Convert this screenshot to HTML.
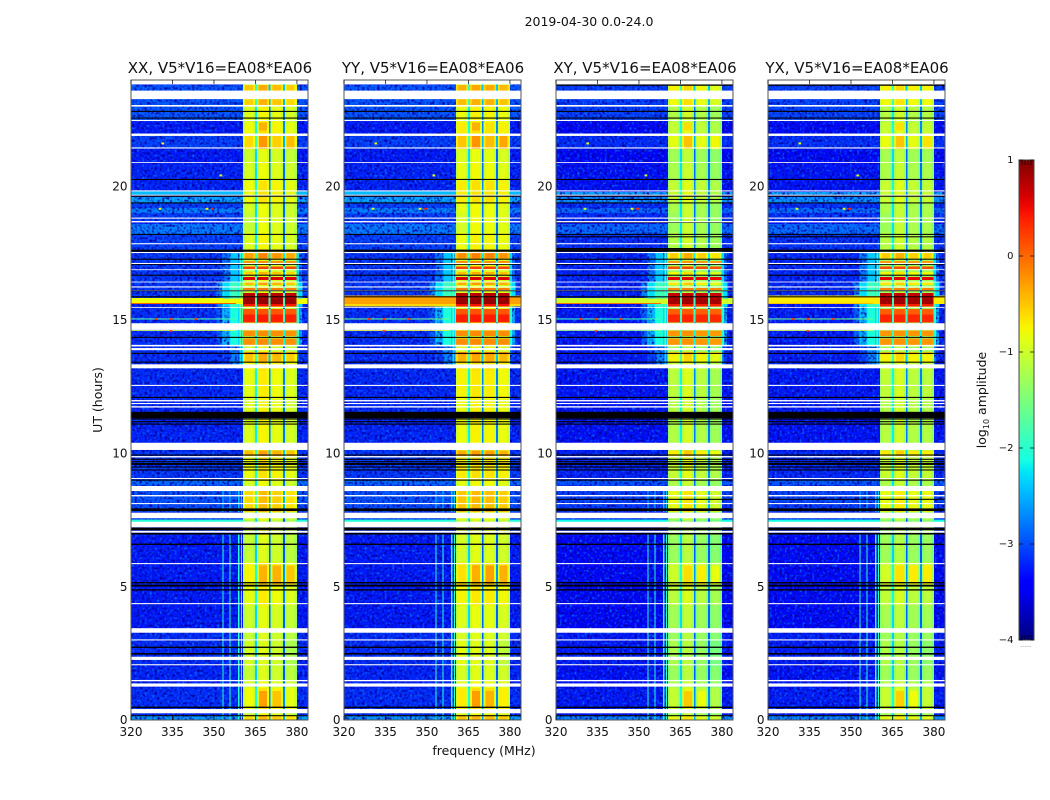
<!DOCTYPE html>
<html lang="en">
<head>
<meta charset="utf-8">
<title>2019-04-30 dynamic spectra</title>
<style>
html,body{margin:0;padding:0;background:#fff;width:1050px;height:800px;overflow:hidden}
svg{display:block}
text{font-family:"DejaVu Sans","Liberation Sans",sans-serif;fill:#111}
</style>
</head>
<body>
<svg id="chart" xmlns="http://www.w3.org/2000/svg" width="1050" height="800" viewBox="0 0 1050 800">
  <defs>
    <linearGradient id="jet-gradient" x1="0" y1="1" x2="0" y2="0"></linearGradient>
    <filter id="speckle-dark-0" x="0" y="0" width="1" height="1" color-interpolation-filters="sRGB"><feTurbulence type="fractalNoise" baseFrequency="0.4" numOctaves="1" seed="3"/><feColorMatrix type="matrix" values="0 0 0 0 0  0 0 0 0 0  0 0 0 0 0.62  3.4 0 0 0 -1.55"/></filter>
    <filter id="speckle-light-0" x="0" y="0" width="1" height="1" color-interpolation-filters="sRGB"><feTurbulence type="fractalNoise" baseFrequency="0.4" numOctaves="1" seed="11"/><feColorMatrix type="matrix" values="0 0 0 0 0  0 0 0 0 0.45  0 0 0 0 1  0 3.4 0 0 -1.85"/></filter>
  </defs>
  <text x="589" y="26" text-anchor="middle" font-size="12.5">2019-04-30 0.0-24.0</text>
  <text transform="translate(102,400) rotate(-90)" text-anchor="middle" font-size="12.5">UT (hours)</text>
  <text x="484" y="755" text-anchor="middle" font-size="12.5">frequency (MHz)</text>
  <g id="panels"></g>
  <g id="colorbar"></g>
  <text transform="translate(986,400) rotate(-90)" text-anchor="middle" font-size="12.5">log<tspan font-size="8" dy="3">10</tspan><tspan dy="-3"> amplitude</tspan></text>
  <text x="1026" y="647" text-anchor="middle" font-size="6" style="fill:#777">......</text>
</svg>
<script>
// ---- axis ticks ----
const frequencyTicks = [320, 335, 350, 365, 380];
const hourTicks = [0, 5, 10, 15, 20];
const colorbarTicks = [1, 0, -1, -2, -3, -4];
const panelTitles = ['XX, V5*V16=EA08*EA06', 'YY, V5*V16=EA08*EA06', 'XY, V5*V16=EA08*EA06', 'YX, V5*V16=EA08*EA06'];
const panelLefts = [131, 344, 556, 768];

// ---- spectrum channels (MHz edges, and what kind of channel each bin is) ----
const channelEdges = [320, 351, 353.1, 353.45, 355.7, 356.05, 358.6, 359.3, 359.85, 360.15, 360.5, 361.2, 364.1, 364.8, 365.5, 366.2, 369.1, 369.8, 370.5, 371.2, 374.2, 374.9, 375.6, 376.3, 379.1, 379.8, 380.6, 381.8, 384];
const channelKinds = ['off', 'leak3', 'rfi', 'leak2', 'rfi', 'leak1', 'rfi', 'leak0', 'rfi', 'leak0', 'edge0', 'mid0', 'edge0', 'notch0', 'edge1', 'mid1', 'edge1', 'notch1', 'edge2', 'mid2', 'edge2', 'notch2', 'edge3', 'mid3', 'edge3', 'post0', 'post1', 'off'];
const notchDrop = [1.35, 1.95, 1.95];

// ---- time segments [startHour, endHour, log10 amplitude] ----
const offBandSegments = [[0, 0.24, -2.55], [0.4, 1.24, -3.1], [1.36, 1.44, -2.4], [1.5, 2.04, -3.15], [2.08, 3.26, -3.1], [3.43, 6.9, -3.2], [7.42, 7.55, -2.0], [7.76, 8.08, -2.95], [8.12, 8.57, -2.9], [8.76, 9.0, -2.8], [9.0, 10.11, -3.05], [10.4, 11.3, -3.15], [11.54, 13.2, -3.12], [13.3, 15.5, -3.1], [15.85, 17.5, -3.05], [17.6, 18.2, -3.0], [18.2, 18.65, -2.7], [18.7, 19.0, -3.0], [19.0, 19.2, -2.7], [19.2, 19.4, -3.0], [19.4, 19.62, -2.5], [19.7, 19.8, -2.4], [19.9, 20.9, -3.15], [20.9, 21.4, -3.2], [21.45, 21.9, -3.0], [21.97, 22.45, -3.2], [22.5, 23.26, -2.9], [23.58, 23.65, -2.1], [23.65, 23.81, -2.9]];
const inBandSegments = [[0, 0.24, -0.55], [0.4, 1.24, -0.75], [1.24, 1.5, -0.9], [1.5, 3.3, -1.0], [3.4, 4.35, -0.95], [4.35, 5.0, -0.8], [5.0, 5.9, -0.7], [5.9, 6.9, -1.0], [7.42, 7.55, -1.1], [7.76, 8.6, -0.55], [8.6, 9.0, -0.9], [9.0, 9.9, -0.75], [9.9, 10.11, -0.4], [10.4, 11.3, -0.85], [11.5, 12.1, -0.85], [12.1, 13.1, -0.8], [13.1, 13.4, -0.75], [13.4, 13.67, -0.45], [13.75, 13.85, -0.25], [14.05, 14.3, -0.2], [14.36, 14.6, -0.2], [14.87, 15.25, 0.4], [15.25, 15.44, 0.1], [15.47, 15.65, 0.45], [15.65, 15.85, 0.9], [15.85, 16.03, 0.75], [16.1, 16.25, -0.1], [16.3, 16.44, -0.4], [16.48, 16.63, 0.6], [16.66, 16.85, -0.5], [16.88, 17.04, 0.2], [17.12, 17.23, -0.2], [17.27, 17.5, -0.25], [17.6, 18.2, -0.85], [18.2, 19.4, -0.9], [19.4, 20.2, -0.75], [20.2, 20.9, -0.9], [20.9, 21.4, -0.95], [21.4, 21.95, -0.55], [21.95, 22.45, -0.75], [22.45, 23, -0.85], [23, 23.26, -0.5], [23.58, 23.81, -0.45]];
const leakSegments = [[13.3, 14.0, -2.3], [14.0, 15.5, -1.7], [15.5, 16.4, -1.5], [16.4, 17.5, -2.0]];
const rfiSegments = [[0, 7.0, -2.0], [7.8, 8.6, -2.4]];

// ---- brighter patches inside single sub-bands [subBand, startHour, endHour, extra] ----
const inBandPatches = [[1, 0.55, 1.1, 0.35], [2, 0.55, 1.1, 0.25], [1, 5.1, 5.8, 0.2], [2, 5.1, 5.8, 0.3], [3, 5.1, 5.8, 0.3], [1, 21.4, 21.95, 0.2], [3, 21.4, 21.95, 0.2], [1, 22.1, 22.4, 0.25], [0, 2.0, 3.0, 0.1], [3, 2.0, 3.0, -0.1], [0, 18.3, 19.0, -0.1]];

// ---- per-panel offsets: sub-band 1..4 gain, off-band gain ----
const subBandOffsets = [[-0.05, 0.1, 0, -0.1], [0.05, 0.12, 0.1, 0.02], [-0.3, -0.12, -0.32, -0.42], [-0.28, -0.15, -0.3, -0.3]];
const edgeDrop = [0.22, 0.22, 0.22, 0.22];
const offBandGain = [-0.05, -0.05, -0.15, -0.13];

// ---- strong broadband rows per panel ----
const broadbandP1 = [[15.6, 15.8, -0.8]];
const broadbandP2 = [[15.6, 15.9, -0.3], [15.5, 15.6, -0.6]];
const broadbandP3 = [[15.6, 15.8, -1.0]];
const broadbandP4 = [[15.6, 15.9, -0.7]];
const broadbandRows = [broadbandP1, broadbandP2, broadbandP3, broadbandP4];

// ---- thin off-band interference lines [startHour, endHour, log10 amplitude] ----
const thinP1 = [[15.58, 15.61, 0.3], [15.0, 15.04, -1.8], [14.57, 14.6, -1.0]];
const thinP2 = [[15.0, 15.04, -1.6], [14.57, 14.6, -0.8]];
const thinP3 = [[15.58, 15.61, 0.2], [15.0, 15.04, -1.9], [14.57, 14.6, -1.4]];
const thinP4 = [[15.58, 15.61, -0.4], [15.0, 15.04, -1.6], [14.57, 14.6, -1.0]];
const thinRows = [thinP1, thinP2, thinP3, thinP4];

// ---- flagged rows (drawn white when missing, black when empty) ----
const whiteRows = [[0.24, 0.4], [1.24, 1.36], [1.44, 1.49], [2.04, 2.08], [2.24, 2.36], [2.97, 3.01], [3.26, 3.43], [4.33, 4.37], [5.83, 5.87], [7.01, 7.08], [7.21, 7.42], [7.55, 7.76], [8.08, 8.12], [8.37, 8.42], [8.57, 8.76], [9.02, 9.06], [9.83, 9.88], [10.11, 10.38], [11.70, 11.75], [11.83, 11.87], [11.93, 11.98], [12.51, 12.55], [13.17, 13.32], [13.85, 13.93], [13.99, 14.05], [14.6, 14.63], [14.63, 14.86], [15.44, 15.47], [16.07, 16.1], [16.2, 16.24], [16.39, 16.42], [16.85, 16.88], [17.08, 17.12], [17.49, 17.53], [17.82, 17.86], [18.64, 18.69], [18.78, 18.82], [19.64, 19.68], [19.8, 19.84], [20.87, 20.9], [21.41, 21.45], [21.88, 21.97], [22.44, 22.48], [22.98, 23.04], [23.26, 23.58], [23.81, 24]];
const blackRows = [[0.13, 0.17], [0.44, 0.49], [2.44, 2.5], [2.69, 2.74], [4.84, 4.89], [4.99, 5.06], [5.11, 5.16], [6.55, 6.6], [6.94, 7.0], [7.1, 7.2], [7.82, 7.92], [8.96, 9.0], [9.34, 9.38], [9.45, 9.49], [9.55, 9.62], [9.65, 9.69], [9.74, 9.78], [9.9, 9.94], [11.06, 11.1], [11.15, 11.19], [11.25, 11.29], [11.3, 11.54], [12.06, 12.1], [13.38, 13.42], [13.71, 13.75], [14.31, 14.35], [15.83, 15.87], [16.06, 16.09], [16.64, 16.68], [17.05, 17.08], [17.24, 17.28], [17.54, 17.62], [18.17, 18.21], [19.35, 19.39], [19.6, 19.64], [20.23, 20.27], [22.53, 22.57], [22.78, 22.82]];
const extraBlackP3 = [[8.24, 8.28], [17.62, 17.68], [18.08, 18.12], [18.62, 18.64], [19.48, 19.52], [23.76, 23.81]];
const extraBlackP4 = [[8.24, 8.28], [18.08, 18.12], [23.76, 23.81]];
const panelBlackRows = [[], [], extraBlackP3, extraBlackP4];

// ---- isolated hot pixels [MHz, hour, log10 amplitude] ----
const hotPixels = [[328.6, 15.02, 0.3], [334, 15.02, 0.3], [343, 15.02, 0.3], [334, 14.58, 0.3], [349, 19.15, 0.4], [347, 19.15, -0.8], [330, 19.15, -0.9], [331, 21.6, -0.8], [352, 20.4, -0.9]];

const NS = 'http://www.w3.org/2000/svg';
const ROW_COUNT = 240;
const PANEL_WIDTH = 177;
const FREQ_MIN = 320;
const FREQ_MAX = 384;
const AXIS_TOP = 80;
const AXIS_BOTTOM = 720;
const TEXTURE_CEILING = -2.45;
const LINE_BAND_END = 358;

function xScale(mhz, left) { return left + (mhz - FREQ_MIN) * PANEL_WIDTH / (FREQ_MAX - FREQ_MIN); }
function yScale(hour) { return 719.7 - hour * 26.68; }
function colorbarY(v) { return 640 - (v + 4) * 96; }

function piece(stops, t) {
  for (let i = 1; i < stops.length; i++) {
    if (t <= stops[i][0]) {
      const a = stops[i - 1], b = stops[i];
      return a[1] + (b[1] - a[1]) * (t - a[0]) / (b[0] - a[0]);
    }
  }
  return stops[stops.length - 1][1];
}
const jetRed = [[0, 0], [0.35, 0], [0.66, 1], [0.89, 1], [1, 0.5]];
const jetGreen = [[0, 0], [0.125, 0], [0.375, 1], [0.64, 1], [0.91, 0], [1, 0]];
const jetBlue = [[0, 0.5], [0.11, 1], [0.34, 1], [0.65, 0], [1, 0]];
function jet(v) {
  const t = Math.max(0, Math.min(1, (v + 4) / 5));
  const r = Math.round(piece(jetRed, t) * 255);
  const g = Math.round(piece(jetGreen, t) * 255);
  const b = Math.round(piece(jetBlue, t) * 255);
  return 'rgb(' + r + ',' + g + ',' + b + ')';
}

function lookup(segments, hour, fallback) {
  for (const s of segments) { if (hour >= s[0] && hour < s[1]) return s[2]; }
  return fallback;
}

function patchExtra(idx, hour) {
  let extra = 0;
  for (const p of inBandPatches) { if (p[0] === idx && hour >= p[1] && hour < p[2]) extra += p[3]; }
  return extra;
}

function cellLevel(kind, hour, panel) {
  const broad = lookup(broadbandRows[panel], hour, null);
  const off = lookup(offBandSegments, hour, -3.15) + offBandGain[panel];
  const inBand = lookup(inBandSegments, hour, -0.95);
  const leak = lookup(leakSegments, hour, -9);
  const group = kind.replace(/[0-9]/g, '');
  const idx = Number(kind.slice(-1));
  const sub = subBandOffsets[panel][idx];
  const quiet = inBand < -0.2 ? 1 : 0.15;
  if (group === 'off') return broad !== null ? broad : off;
  if (group === 'leak') {
    return Math.max(off, leak - idx * 0.4, broad !== null ? broad : -9);
  }
  if (group === 'rfi') {
    return Math.max(off, lookup(rfiSegments, hour, -9), leak - 0.6, broad !== null ? broad : -9);
  }
  if (group === 'mid') return inBand + sub * quiet + patchExtra(idx, hour);
  if (group === 'edge') return inBand + sub * quiet - edgeDrop[idx] * quiet;
  if (group === 'notch') return Math.min(-1.9, Math.max(-3.0, inBand - notchDrop[idx]));
  if (group === 'post') return Math.max(off, leak - 0.3 - idx * 0.5, broad !== null ? broad : -9);
  return off;
}

const panelsGroup = document.getElementById('panels');
const defsEl = document.querySelector('defs');

panelLefts.forEach(function (left, panel) {
  const g = document.createElementNS(NS, 'g');
  
  
  panelsGroup.appendChild(g);

  const cells = document.createElementNS(NS, 'g');
  cells.setAttribute('shape-rendering', 'crispEdges');
  
  
  g.appendChild(cells);

  const textureGroup = document.createElementNS(NS, 'g');
  
  
  g.appendChild(textureGroup);

  const topCells = document.createElementNS(NS, 'g');
  topCells.setAttribute('shape-rendering', 'crispEdges');
  
  
  g.appendChild(topCells);

  for (let r = 0; r < ROW_COUNT; r++) {
    const hour = (r + 0.5) / 10;
    const yTop = yScale((r + 1) / 10);
    const yBot = yScale(r / 10);
    for (let c = 0; c < channelKinds.length; c++) {
      const x0 = xScale(channelEdges[c], left);
      const x1 = xScale(channelEdges[c + 1], left);
      const level = cellLevel(channelKinds[c], hour, panel);
      const pad = channelKinds[c] === 'rfi' ? 0 : 0.4;
      const cell = document.createElementNS(NS, 'rect');
      
      
      cell.setAttribute('x', x0.toFixed(2));
      cell.setAttribute('y', yTop.toFixed(2));
      cell.setAttribute('width', (x1 - x0 + pad).toFixed(2));
      cell.setAttribute('height', (yBot - yTop + 0.4).toFixed(2));
      cell.setAttribute('fill', jet(level));
      (level > TEXTURE_CEILING ? topCells : cells).appendChild(cell);
    }
  }

  // visual speckle texture over the low-amplitude channels
  const dark = document.getElementById('speckle-dark-0').cloneNode(true);
  dark.setAttribute('id', 'speckle-dark-p' + panel);
  dark.querySelector('feTurbulence').setAttribute('seed', String(3 + panel * 7));
  defsEl.appendChild(dark);
  const light = document.getElementById('speckle-light-0').cloneNode(true);
  light.setAttribute('id', 'speckle-light-p' + panel);
  light.querySelector('feTurbulence').setAttribute('seed', String(11 + panel * 5));
  defsEl.appendChild(light);
  [[FREQ_MIN, 360.5], [380, FREQ_MAX]].forEach(function (range) {
    ['dark', 'light'].forEach(function (tone) {
      const tex = document.createElementNS(NS, 'rect');
      
      
      tex.setAttribute('x', xScale(range[0], left).toFixed(2));
      tex.setAttribute('y', String(AXIS_TOP));
      tex.setAttribute('width', (xScale(range[1], left) - xScale(range[0], left)).toFixed(2));
      tex.setAttribute('height', String(AXIS_BOTTOM - AXIS_TOP));
      tex.setAttribute('filter', 'url(#speckle-' + tone + '-p' + panel + ')');
      textureGroup.appendChild(tex);
    });
  });

  thinRows[panel].forEach(function (b) {
    const line = document.createElementNS(NS, 'rect');
    
    
    line.setAttribute('x', String(left));
    line.setAttribute('y', yScale(b[1]).toFixed(2));
    line.setAttribute('width', (xScale(LINE_BAND_END, left) - left).toFixed(2));
    line.setAttribute('height', (yScale(b[0]) - yScale(b[1])).toFixed(2));
    line.setAttribute('fill', jet(b[2]));
    g.appendChild(line);
  });

  hotPixels.forEach(function (p) {
    const dot = document.createElementNS(NS, 'rect');
    
    
    dot.setAttribute('x', xScale(p[0], left).toFixed(2));
    dot.setAttribute('y', (yScale(p[1]) - 1).toFixed(2));
    dot.setAttribute('width', '2.7');
    dot.setAttribute('height', '2');
    dot.setAttribute('fill', jet(p[2]));
    g.appendChild(dot);
  });

  whiteRows.forEach(function (b) {
    const flag = document.createElementNS(NS, 'rect');
    
    
    flag.setAttribute('x', String(left));
    flag.setAttribute('y', yScale(b[1]).toFixed(2));
    flag.setAttribute('width', String(PANEL_WIDTH));
    flag.setAttribute('height', (yScale(b[0]) - yScale(b[1])).toFixed(2));
    flag.setAttribute('fill', '#fff');
    g.appendChild(flag);
  });
  blackRows.concat(panelBlackRows[panel]).forEach(function (b) {
    const flag = document.createElementNS(NS, 'rect');
    
    
    flag.setAttribute('x', String(left));
    flag.setAttribute('y', yScale(b[1]).toFixed(2));
    flag.setAttribute('width', String(PANEL_WIDTH));
    flag.setAttribute('height', (yScale(b[0]) - yScale(b[1])).toFixed(2));
    flag.setAttribute('fill', '#000');
    g.appendChild(flag);
  });

  const frame = document.createElementNS(NS, 'rect');
  
  
  frame.setAttribute('x', String(left));
  frame.setAttribute('y', String(AXIS_TOP));
  frame.setAttribute('width', String(PANEL_WIDTH));
  frame.setAttribute('height', String(AXIS_BOTTOM - AXIS_TOP));
  frame.setAttribute('fill', 'none');
  frame.setAttribute('stroke', '#555');
  frame.setAttribute('stroke-width', '1');
  g.appendChild(frame);

  const title = document.createElementNS(NS, 'text');
  
  
  title.setAttribute('x', String(left + PANEL_WIDTH / 2 + 0.5));
  title.setAttribute('y', '73');
  title.setAttribute('text-anchor', 'middle');
  title.setAttribute('font-size', '15');
  title.textContent = panelTitles[panel];
  g.appendChild(title);

  frequencyTicks.forEach(function (f) {
    const x = xScale(f, left);
    [[AXIS_TOP, AXIS_TOP + 4], [AXIS_BOTTOM, AXIS_BOTTOM - 4]].forEach(function (pair) {
      const tick = document.createElementNS(NS, 'line');
      
      
      tick.setAttribute('x1', x.toFixed(2));
      tick.setAttribute('x2', x.toFixed(2));
      tick.setAttribute('y1', String(pair[0]));
      tick.setAttribute('y2', String(pair[1]));
      tick.setAttribute('stroke', '#000');
      tick.setAttribute('stroke-width', '0.7');
      g.appendChild(tick);
    });
    const label = document.createElementNS(NS, 'text');
    
    
    label.setAttribute('x', x.toFixed(2));
    label.setAttribute('y', '736');
    label.setAttribute('text-anchor', 'middle');
    label.setAttribute('font-size', '12');
    label.textContent = String(f);
    g.appendChild(label);
  });

  hourTicks.forEach(function (h) {
    const y = yScale(h);
    const label = document.createElementNS(NS, 'text');
    
    
    label.setAttribute('x', String(left - 3.5));
    label.setAttribute('y', (y + 4.5).toFixed(2));
    label.setAttribute('text-anchor', 'end');
    label.setAttribute('font-size', '12');
    label.textContent = String(h);
    g.appendChild(label);
  });
});

// colorbar
const gradient = document.getElementById('jet-gradient');
for (let i = 0; i <= 40; i++) {
  const stop = document.createElementNS(NS, 'stop');
  stop.setAttribute('offset', String(i / 40));
  stop.setAttribute('stop-color', jet(-4 + 5 * i / 40));
  gradient.appendChild(stop);
}
const bar = document.getElementById('colorbar');
const barRect = document.createElementNS(NS, 'rect');


barRect.setAttribute('x', '1019');
barRect.setAttribute('y', '160');
barRect.setAttribute('width', '15');
barRect.setAttribute('height', '480');
barRect.setAttribute('fill', 'url(#jet-gradient)');
barRect.setAttribute('stroke', '#444');
barRect.setAttribute('stroke-width', '1');
bar.appendChild(barRect);
colorbarTicks.forEach(function (v) {
  const y = colorbarY(v);
  [[1019, 1023], [1030, 1034]].forEach(function (pair) {
    const tick = document.createElementNS(NS, 'line');
    
    
    tick.setAttribute('x1', String(pair[0]));
    tick.setAttribute('x2', String(pair[1]));
    tick.setAttribute('y1', String(y));
    tick.setAttribute('y2', String(y));
    tick.setAttribute('stroke', '#000');
    tick.setAttribute('stroke-width', '0.7');
    bar.appendChild(tick);
  });
  const label = document.createElementNS(NS, 'text');
  
  
  label.setAttribute('x', '1013.5');
  label.setAttribute('y', String(y + 3));
  label.setAttribute('text-anchor', 'end');
  label.setAttribute('font-size', '10');
  label.textContent = v < 0 ? '\u2212' + Math.abs(v) : String(v);
  bar.appendChild(label);
});
[1022, 1025, 1028, 1031].forEach(function (x) {
  [[160, 165], [640, 635]].forEach(function (pair) {
    const tick = document.createElementNS(NS, 'line');
    
    
    tick.setAttribute('x1', String(x));
    tick.setAttribute('x2', String(x));
    tick.setAttribute('y1', String(pair[0]));
    tick.setAttribute('y2', String(pair[1]));
    tick.setAttribute('stroke', '#000');
    tick.setAttribute('stroke-width', '0.6');
    bar.appendChild(tick);
  });
});
</script>
</body>
</html>
